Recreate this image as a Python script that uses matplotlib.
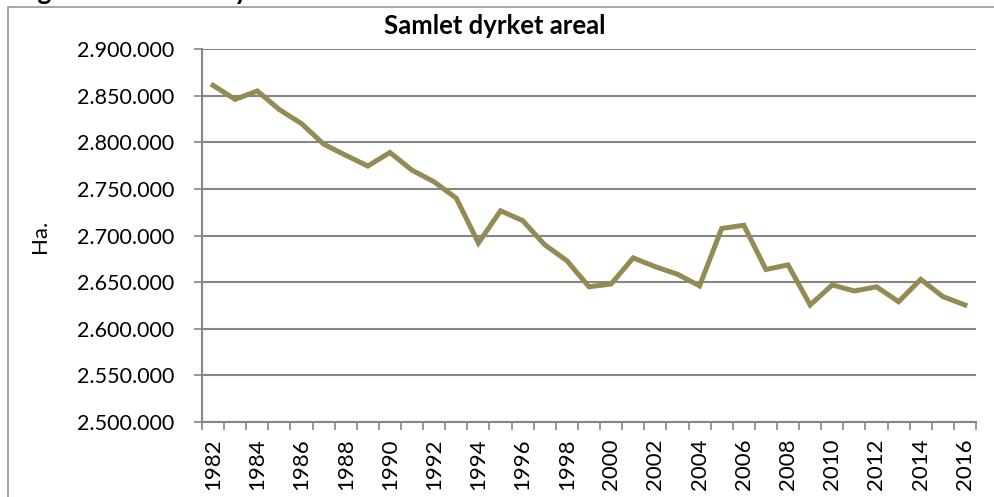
import matplotlib
matplotlib.use("Agg")
import matplotlib.pyplot as plt
from matplotlib.patches import Rectangle
from matplotlib.ticker import FuncFormatter, FixedLocator

# Data
years = list(range(1982, 2017))
areal = [2861000, 2846000, 2855000, 2835000, 2820000, 2798000, 2786000,
         2774500, 2789000, 2770000, 2757500, 2740000, 2692000, 2726500,
         2716000, 2690000, 2673000, 2645000, 2648000, 2676000, 2666500,
         2658500, 2646000, 2707500, 2711000, 2663500, 2668500, 2625500,
         2647000, 2640500, 2645000, 2629000, 2653000, 2634500, 2625500]

title = "Samlet dyrket areal"
caption = "Figur 3.1: Samlet dyrket areal i Danmark 1982-2016"
ylabel = "Ha."

plt.rcParams["font.family"] = ["Lato", "DejaVu Sans"]

line_color = "#948A54"
grid_color = "#868686"

fig = plt.figure(figsize=(9.94, 4.97), dpi=100)
ax = fig.add_axes([0.2032, 0.1509, 0.7787, 0.7505])

x = list(range(len(years)))
ax.plot(x, areal, color=line_color, lw=3.6, solid_joinstyle="miter")

ax.set_xlim(-0.5, len(years) - 0.5)
ax.set_ylim(2500000, 2900000)
ax.set_yticks(range(2500000, 2900001, 50000))
ax.yaxis.set_major_formatter(FuncFormatter(lambda v, p: f"{int(v):,}".replace(",", ".")))
ax.grid(axis="y", color=grid_color, lw=1.5)
ax.set_axisbelow(True)

# category ticks between years, labels on every second year
ax.xaxis.set_major_locator(FixedLocator([i - 0.5 for i in range(len(years) + 1)]))
ax.xaxis.set_minor_locator(FixedLocator(x[::2]))
ax.set_xticklabels([], minor=False)
ax.set_xticklabels([str(y) for y in years[::2]], minor=True, rotation=90)
ax.tick_params(axis="x", which="major", length=6, color=grid_color, width=1.2)
ax.tick_params(axis="x", which="minor", length=0, labelsize=16, pad=12)
ax.tick_params(axis="y", length=6, color=grid_color, width=1.2, labelsize=15.5, pad=14)

for s in ["top", "right"]:
    ax.spines[s].set_visible(False)
for s in ["left", "bottom"]:
    ax.spines[s].set_color(grid_color)
    ax.spines[s].set_linewidth(1.5)

fig.text(495 / 994, 1 - 34 / 497, title, fontsize=18.5, fontweight="bold",
         ha="center", va="baseline")
fig.text(0.040, 0.525, ylabel, rotation=90, fontsize=16, ha="center", va="center")

# chart frame and clipped caption from the page
fig.patches.append(Rectangle((8 / 994, -0.1), 1.2, 1 - 7 / 497 + 0.1,
                             transform=fig.transFigure, fill=False,
                             edgecolor="#9a9a9a", lw=1.2))
fig.text(0.016, 1.0, caption, fontsize=19, fontweight="bold",
         ha="left", va="baseline")

fig.savefig("out.png", dpi=100)
